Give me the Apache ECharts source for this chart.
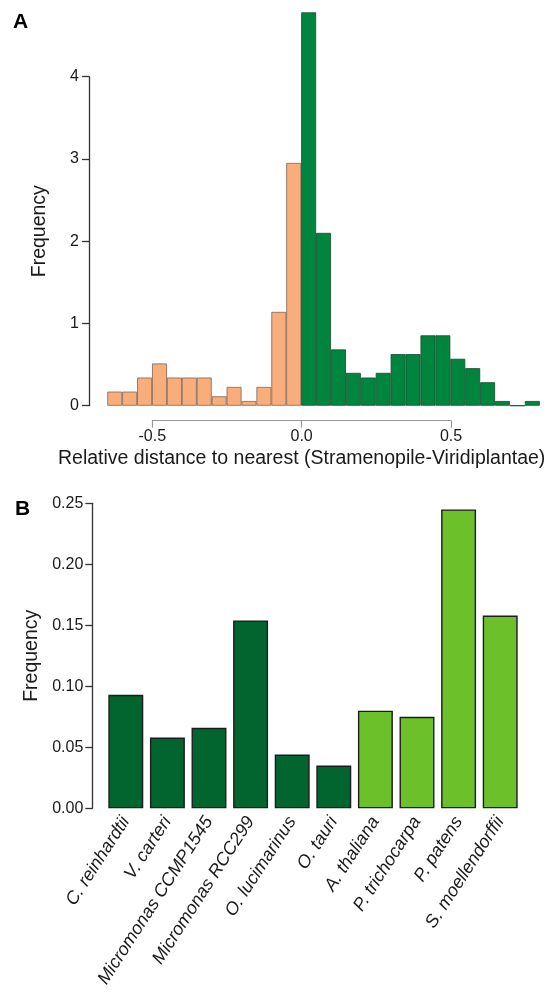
<!DOCTYPE html>
<html>
<head>
<meta charset="utf-8">
<script src="https://cdn.jsdelivr.net/npm/echarts@6/dist/echarts.min.js"></script>
<style>
html,body{margin:0;padding:0;background:#fff}
#chart{width:554px;height:997px}
</style>
</head>
<body>
<div id="chart"></div>
<script>
// panel A: histogram bins (left edge of each 0.05 bin)
var binStarts = ['-0.65','-0.60','-0.55','-0.50','-0.45','-0.40','-0.35','-0.30','-0.25','-0.20','-0.15','-0.10','-0.05',
                 '0.00','0.05','0.10','0.15','0.20','0.25','0.30','0.35','0.40','0.45','0.50','0.55','0.60','0.65','0.70','0.75'];
// closer to Stramenopiles (negative side)
var stramFreq = [0.171,0.171,0.342,0.513,0.342,0.342,0.342,0.114,0.228,0.057,0.228,1.140,2.950];
// closer to Viridiplantae (positive side)
var viridFreq = [4.780,2.100,0.684,0.399,0.342,0.399,0.627,0.627,0.855,0.855,0.570,0.456,0.285,0.057,0,0.057];

// panel B
var species = ['C. reinhardtii','V. carteri','Micromonas CCMP1545','Micromonas RCC299','O. lucimarinus','O. tauri',
               'A. thaliana','P. trichocarpa','P. patens','S. moellendorffii'];
var chloroFreq = [0.093,0.058,0.066,0.154,0.044,0.035];
var streptoFreq = [0.080,0.075,0.245,0.158];

var font = '"Liberation Sans", Arial, Helvetica, sans-serif';
var txt = '#1a1a1a';

var stramData = binStarts.map(function(b, i){ return i < stramFreq.length ? stramFreq[i] : '-'; });
var viridData = binStarts.map(function(b, i){
    var j = i - stramFreq.length;
    return j >= 0 ? viridFreq[j] : '-';
});
var chloroData = species.map(function(s, i){ return i < chloroFreq.length ? chloroFreq[i] : '-'; });
var streptoData = species.map(function(s, i){
    var j = i - chloroFreq.length;
    return j >= 0 ? streptoFreq[j] : '-';
});

var chart = echarts.init(document.getElementById('chart'), null, {renderer:'canvas'});

var option = {
    animation: false,
    backgroundColor: '#fff',
    textStyle: {fontFamily: font},
    graphic: [
        {type:'text', left:13, top:12, style:{text:'A', font:'bold 21px ' + font, fill:'#000'}},
        {type:'text', left:15, top:499, style:{text:'B', font:'bold 21px ' + font, fill:'#000'}}
    ],
    grid: [
        {left:107.3, width:432.5, top:10.7, height:395},   // A bars
        {left:89, width:1, top:76.7, height:329},          // A y axis (0..4 only)
        {left:152.3, width:298.7, top:410, height:10.7},   // A x axis (-0.5..0.5 only)
        {left:105, width:416, top:503.3, height:305}       // B
    ],
    xAxis: [
        {gridIndex:0, type:'category', data:binStarts, show:false},
        {gridIndex:1, type:'value', show:false},
        {
            gridIndex:2, type:'value', min:-0.5, max:0.5, interval:0.5,
            axisLine:{lineStyle:{color:'#999', width:1.2}},
            axisTick:{length:7, lineStyle:{color:'#999', width:1.2}},
            splitLine:{show:false},
            axisLabel:{margin:8, fontSize:16, color:txt, formatter:function(v){ return v.toFixed(1); }},
            name:'Relative distance to nearest (Stramenopile-Viridiplantae)',
            nameLocation:'middle', nameGap:28,
            nameTextStyle:{fontSize:19.5, color:txt}
        },
        {
            gridIndex:3, type:'category', data:species,
            axisLine:{show:false}, axisTick:{show:false},
            axisLabel:{interval:0, rotate:57, fontSize:18, fontStyle:'italic', color:txt, margin:10}
        }
    ],
    yAxis: [
        {gridIndex:0, type:'value', min:0, max:4.8, show:false},
        {
            gridIndex:1, type:'value', min:0, max:4, interval:1,
            axisLine:{show:true, lineStyle:{color:'#333', width:1.3}},
            axisTick:{show:true, length:7, lineStyle:{color:'#333', width:1.3}},
            splitLine:{show:false},
            axisLabel:{margin:10, fontSize:16, color:txt},
            name:'Frequency', nameLocation:'middle', nameGap:39,
            nameTextStyle:{fontSize:19.5, color:txt, padding:[0,0,0,20]}
        },
        {gridIndex:2, type:'value', show:false},
        {
            gridIndex:3, type:'value', min:0, max:0.25, interval:0.05, offset:12.7,
            axisLine:{show:true, lineStyle:{color:'#333', width:1.3}},
            axisTick:{show:true, length:7, lineStyle:{color:'#333', width:1.3}},
            splitLine:{show:false},
            axisLabel:{margin:9, fontSize:16, color:txt, formatter:function(v){ return v.toFixed(2); }},
            name:'Frequency', nameLocation:'middle', nameGap:40,
            nameTextStyle:{fontSize:19.5, color:txt}
        }
    ],
    series: [
        {
            type:'bar', xAxisIndex:0, yAxisIndex:0, data:stramData,
            barCategoryGap:0, barGap:'-100%',
            itemStyle:{color:'#F9AD7B', borderColor:'#7d6456', borderWidth:0.8}
        },
        {
            type:'bar', xAxisIndex:0, yAxisIndex:0, data:viridData,
            barCategoryGap:0, barGap:'-100%',
            itemStyle:{color:'#00853F', borderColor:'#174a2c', borderWidth:0.8}
        },
        {
            type:'bar', xAxisIndex:3, yAxisIndex:3, data:chloroData,
            barCategoryGap:'16%', barGap:'-100%',
            itemStyle:{color:'#02652F', borderColor:'#1c1c1c', borderWidth:1.4}
        },
        {
            type:'bar', xAxisIndex:3, yAxisIndex:3, data:streptoData,
            barCategoryGap:'16%', barGap:'-100%',
            itemStyle:{color:'#6CC12A', borderColor:'#1c1c1c', borderWidth:1.4}
        }
    ]
};
chart.setOption(option);
</script>
</body>
</html>
